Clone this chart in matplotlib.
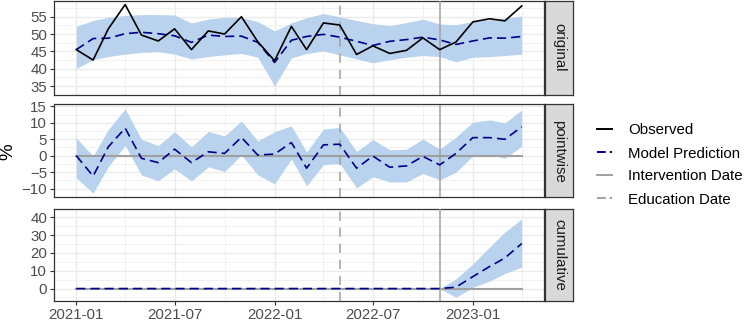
import matplotlib
matplotlib.use("Agg")
import matplotlib.pyplot as plt
import matplotlib.dates as mdates
from matplotlib.lines import Line2D
import numpy as np
import pandas as pd

plt.rcParams['font.family'] = ['Liberation Sans', 'DejaVu Sans']

# ---------------- data ----------------
dates = pd.date_range("2021-01-01", periods=28, freq="MS")
observed = [45.5, 42.5, 51.5, 58.5, 49.7, 48.0, 51.5, 45.5, 50.9, 50.0, 55.0, 47.8,
            42.3, 52.2, 45.5, 53.2, 52.6, 44.1, 46.6, 44.4, 45.3, 48.9, 45.5, 47.7,
            53.5, 54.4, 53.8, 58.1]
predicted = [45.5, 48.7, 48.8, 50.1, 50.5, 50.1, 49.5, 47.6, 49.7, 49.3, 49.4, 47.6,
             41.8, 48.2, 49.3, 49.9, 49.1, 47.9, 46.7, 47.9, 48.4, 49.1, 48.3, 47.0,
             48.0, 48.9, 48.8, 49.3]
pred_upper = [52.2, 53.9, 54.8, 55.4, 55.6, 55.6, 55.5, 53.2, 54.3, 54.8, 54.8, 53.6,
              50.9, 53.2, 54.7, 55.9, 55.0, 53.9, 53.0, 52.4, 53.3, 54.3, 52.9, 52.7,
              53.6, 54.1, 54.6, 55.2]
pred_lower = [40.1, 42.6, 43.5, 44.2, 44.7, 44.9, 44.2, 42.8, 43.5, 44.0, 44.4, 43.3,
              35.0, 43.1, 44.4, 45.1, 44.0, 42.8, 41.7, 42.6, 43.3, 43.8, 43.5, 42.0,
              43.3, 43.5, 43.8, 44.2]
# cumulative effect (post period, starting the month after the intervention)
cum_effect = [0.8, 6.7, 12.4, 17.2, 25.3]
cum_lower = [-4.9, 0.7, 4.2, 8.5, 12.0]
cum_upper = [5.5, 13.8, 23.4, 31.8, 39.1]

intervention_date = pd.Timestamp("2022-11-01")
education_date = pd.Timestamp("2022-05-01")
panel_names = ["original", "pointwise", "cumulative"]

obs = np.array(observed)
pred = np.array(predicted)
pu = np.array(pred_upper)
pl = np.array(pred_lower)

point = obs - pred
point_lo = obs - pu
point_hi = obs - pl

n_pre = len(dates) - len(cum_effect)  # months with zero cumulative effect
cum = np.concatenate([np.zeros(n_pre), cum_effect])
cum_lo = np.concatenate([np.zeros(n_pre), cum_lower])
cum_hi = np.concatenate([np.zeros(n_pre), cum_upper])

# ---------------- styling ----------------
FILL = "#B9D3EE"
NAVY = "#00008B"
GRAYLINE = "#A0A0A0"
GRID = "#EBEBEB"
BORDER = "#333333"
TICKC = "#4D4D4D"
FS = 10.8

W, H = 750, 323
fig = plt.figure(figsize=(W / 100, H / 100), dpi=100)

left, right = 54 / W, 544 / W
spans = [(0.5, 94.7), (104.5, 197.4), (208.5, 301.2)]
axes = []
for (t, b) in spans:
    ax = fig.add_axes([left, 1 - b / H, right - left, (b - t) / H])
    axes.append(ax)

yticks = [[35, 40, 45, 50, 55], [-10, -5, 0, 5, 10, 15], [0, 10, 20, 30, 40]]
yminor = [np.arange(32.5, 60, 5), np.arange(-12.5, 16, 5), np.arange(-5, 46, 10)]

xmaj = pd.to_datetime(["2021-01-01", "2021-07-01", "2022-01-01", "2022-07-01", "2023-01-01"])
xmin = pd.to_datetime(["2021-04-01", "2021-10-01", "2022-04-01", "2022-10-01", "2023-04-01"])

dash_pat = (5.5, 3.0)

for k, ax in enumerate(axes):
    if k == 0:
        ax.fill_between(dates, pl, pu, color=FILL, lw=0, zorder=2)
    elif k == 1:
        ax.fill_between(dates, point_lo, point_hi, color=FILL, lw=0, zorder=2)
        ax.plot(dates, np.zeros(len(dates)), color=GRAYLINE, lw=1.5, zorder=3)
    else:
        ax.fill_between(dates, cum_lo, cum_hi, color=FILL, lw=0, zorder=2)
        ax.plot(dates, np.zeros(len(dates)), color=GRAYLINE, lw=1.5, zorder=3)

    ax.axvline(intervention_date, color=GRAYLINE, lw=1.1, zorder=4)
    ax.axvline(education_date, color=GRAYLINE, lw=1.1, zorder=4, dashes=(6, 4.5))

    if k == 0:
        ax.plot(dates, pred, color=NAVY, lw=1.2, dashes=dash_pat, zorder=5)
        ax.plot(dates, obs, color="black", lw=1.2, zorder=6)
    elif k == 1:
        ax.plot(dates, point, color=NAVY, lw=1.2, dashes=dash_pat, zorder=5)
    else:
        ax.plot(dates, cum, color=NAVY, lw=1.2, dashes=dash_pat, zorder=5)

    ax.margins(x=0.05, y=0.05)
    ax.set_yticks(yticks[k])
    ax.set_yticks(yminor[k], minor=True)
    ax.set_xticks(xmaj)
    ax.set_xticks(xmin, minor=True)
    ax.xaxis.set_major_formatter(mdates.DateFormatter("%Y-%m"))
    ax.grid(True, which="major", color=GRID, lw=1.0, zorder=0)
    ax.grid(True, which="minor", color=GRID, lw=0.5, zorder=0)
    ax.set_axisbelow(True)
    ax.tick_params(which="major", length=3, width=0.8, color=BORDER,
                   labelsize=FS, labelcolor=TICKC, pad=2)
    ax.tick_params(which="minor", length=0)
    if k < 2:
        ax.tick_params(axis="x", labelbottom=False, length=0)
    for s in ax.spines.values():
        s.set_color(BORDER)
        s.set_linewidth(0.9)

    # strip on the right
    t, b = spans[k]
    sax = fig.add_axes([545 / W, 1 - b / H, 28 / W, (b - t) / H])
    sax.set_xticks([]); sax.set_yticks([])
    sax.set_facecolor("#D9D9D9")
    for s in sax.spines.values():
        s.set_color(BORDER)
        s.set_linewidth(0.9)
    sax.text(0.5, 0.5, panel_names[k], rotation=-90, ha="center", va="center",
             fontsize=FS, color="#1A1A1A", transform=sax.transAxes)

# y-label
fig.text(8 / W, 1 - 152 / H, "%", rotation=90, ha="center", va="center",
         fontsize=13.5, color="black")

# legend
handles = [
    Line2D([], [], color="black", lw=1.4),
    Line2D([], [], color=NAVY, lw=1.4, dashes=(4.5, 2)),
    Line2D([], [], color=GRAYLINE, lw=1.4),
    Line2D([], [], color=GRAYLINE, lw=1.4, dashes=(4.5, 2)),
]
labels = ["Observed", "Model Prediction", "Intervention Date", "Education Date"]
fig.legend(handles, labels, loc="center left", bbox_to_anchor=(597 / W, 1 - 165 / H),
           frameon=False, fontsize=FS, handlelength=1.0, handletextpad=1.1,
           labelspacing=0.6, borderaxespad=0, borderpad=0)

fig.savefig("out.png", dpi=100)
